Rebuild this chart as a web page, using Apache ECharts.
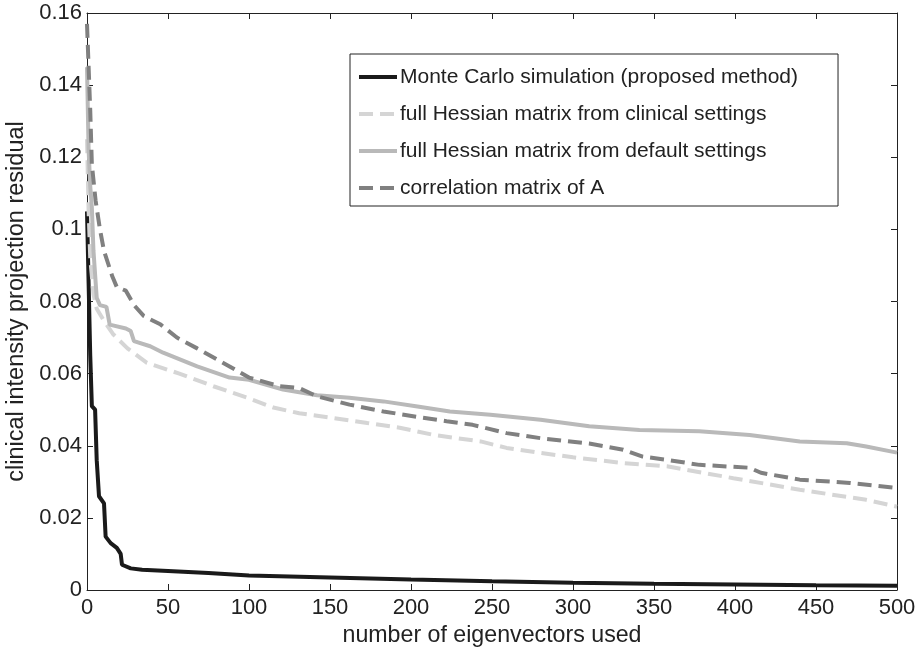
<!DOCTYPE html>
<html>
<head>
<meta charset="utf-8">
<script src="https://cdn.jsdelivr.net/npm/echarts@6/dist/echarts.min.js"></script>
<style>
  html, body { margin: 0; padding: 0; background: #fff; }
  #chart { width: 918px; height: 647px; }
</style>
</head>
<body>
<div id="chart"></div>
<script>
var chartDom = document.getElementById("chart");
var myChart = echarts.init(chartDom);

// series names
var seriesNames = [
  'Monte Carlo simulation (proposed method)',
  'full Hessian matrix from clinical settings',
  'full Hessian matrix from default settings',
  'correlation matrix of A'
];

// Monte Carlo simulation
var mcX = [0, 1, 2, 3, 5, 6, 7.4, 10.5, 11.5, 14.6, 18.4, 20.8, 21.6, 27, 34, 50, 75, 100, 150, 200, 250, 300, 350, 400, 450, 500];
var mcY = [0.105, 0.085, 0.065, 0.051, 0.050, 0.036, 0.026, 0.024, 0.0148, 0.013, 0.0117, 0.010, 0.007, 0.006, 0.0056, 0.0053, 0.0047, 0.0040, 0.0035, 0.0029, 0.0024, 0.0020, 0.0017, 0.0015, 0.0013, 0.0012];

// full Hessian, clinical settings
var clinX = [0, 1, 2, 4, 6, 10, 16, 25, 37, 57, 78, 99, 115, 131, 152, 173, 193, 214, 243, 259, 280, 300, 331, 358, 399, 440, 481, 500];
var clinY = [0.125, 0.105, 0.092, 0.082, 0.078, 0.075, 0.071, 0.067, 0.063, 0.060, 0.0565, 0.0533, 0.0506, 0.049, 0.0477, 0.0463, 0.045, 0.043, 0.0412, 0.0394, 0.038, 0.0368, 0.0352, 0.0343, 0.031, 0.0278, 0.025, 0.0231];

// full Hessian, default settings
var defX = [0, 1, 2, 3, 4, 6, 8, 12, 14, 24, 27, 29, 39, 47, 68, 88, 100, 121, 142, 162, 183, 204, 224, 249, 280, 310, 341, 378, 409, 440, 469, 481, 500];
var defY = [0.145, 0.122, 0.112, 0.106, 0.094, 0.081, 0.079, 0.0785, 0.0736, 0.0725, 0.0718, 0.069, 0.0676, 0.0658, 0.062, 0.0589, 0.0583, 0.0556, 0.054, 0.0533, 0.0523, 0.0509, 0.0495, 0.0486, 0.0472, 0.0454, 0.0444, 0.044, 0.043, 0.0412, 0.0407, 0.0398, 0.0381];

// correlation matrix of A
var corrX = [0, 1, 2, 3, 5.3, 8, 10.5, 15.6, 18.4, 24, 29, 35, 45.5, 55.5, 68, 88, 100, 119, 131, 142, 162, 183, 204, 222, 238, 259, 280, 310, 331, 343, 358, 378, 409, 416, 440, 471, 500];
var corrY = [0.157, 0.145, 0.133, 0.118, 0.108, 0.100, 0.094, 0.087, 0.084, 0.083, 0.079, 0.076, 0.0736, 0.070, 0.067, 0.062, 0.0589, 0.0565, 0.056, 0.0537, 0.0514, 0.0495, 0.048, 0.0468, 0.0458, 0.0435, 0.0421, 0.0406, 0.0389, 0.037, 0.0361, 0.0347, 0.0339, 0.0325, 0.0306, 0.0297, 0.0283];

function pairs(xs, ys) {
  return xs.map(function (x, i) { return [x, ys[i]]; });
}

var font = 'Liberation Sans, Arial, sans-serif';
var ink = '#222';

var axisCommon = {
  type: 'value',
  axisLine: { show: true, onZero: false, lineStyle: { color: ink, width: 1 } },
  axisTick: { show: true, inside: true, length: 6, lineStyle: { color: ink } },
  splitLine: { show: false }
};

function lineSeries(name, xs, ys, color, dash) {
  return {
    name: name,
    type: 'line',
    data: pairs(xs, ys),
    showSymbol: false,
    symbol: 'none',
    animation: false,
    lineStyle: { color: color, width: 4, type: dash },
    itemStyle: { color: color }
  };
}

option = {
  animation: false,
  backgroundColor: '#fff',
  grid: {
    left: 87,
    right: 21,
    top: 13,
    bottom: 57,
    containLabel: false,
    outerBoundsMode: 'none'
  },
  legend: {
    orient: 'vertical',
    left: 350,
    top: 54,
    padding: [12, 40, 7, 7],
    itemWidth: 38,
    itemHeight: 14,
    itemGap: 15,
    backgroundColor: '#fff',
    borderColor: ink,
    borderWidth: 1,
    borderRadius: 0,
    itemStyle: { opacity: 0 },
    lineStyle: { width: 4 },
    textStyle: { fontSize: 21, lineHeight: 22, color: ink, fontFamily: font, padding: [0, 0, 0, -2] },
    data: seriesNames
  },
  xAxis: [
    Object.assign({}, axisCommon, {
      min: 0,
      max: 500,
      interval: 50,
      position: 'bottom',
      name: 'number of eigenvectors used',
      nameLocation: 'middle',
      nameGap: 27,
      nameTextStyle: { fontSize: 23.2, color: ink, fontFamily: font },
      axisLabel: { fontSize: 22, color: ink, fontFamily: font, margin: 7 }
    }),
    Object.assign({}, axisCommon, {
      min: 0,
      max: 500,
      interval: 50,
      position: 'top',
      axisLabel: { show: false }
    })
  ],
  yAxis: [
    Object.assign({}, axisCommon, {
      min: 0,
      max: 0.16,
      interval: 0.02,
      position: 'left',
      name: 'clinical intensity projection residual',
      nameLocation: 'middle',
      nameGap: 51,
      nameTextStyle: { fontSize: 23.5, color: ink, fontFamily: font },
      axisLabel: {
        fontSize: 22, color: ink, fontFamily: font, margin: 5,
        formatter: function (v) { return String(+v.toFixed(2)); }
      }
    }),
    Object.assign({}, axisCommon, {
      min: 0,
      max: 0.16,
      interval: 0.02,
      position: 'right',
      axisLabel: { show: false }
    })
  ],
  series: [
    lineSeries(seriesNames[0], mcX, mcY, '#1a1a1a', 'solid'),
    lineSeries(seriesNames[1], clinX, clinY, '#d5d5d5', [14, 7]),
    lineSeries(seriesNames[2], defX, defY, '#b9b9b9', 'solid'),
    lineSeries(seriesNames[3], corrX, corrY, '#808080', [14, 7])
  ]
};

if (option && typeof option === "object") {
  myChart.setOption(option, true);
}
</script>
</body>
</html>
